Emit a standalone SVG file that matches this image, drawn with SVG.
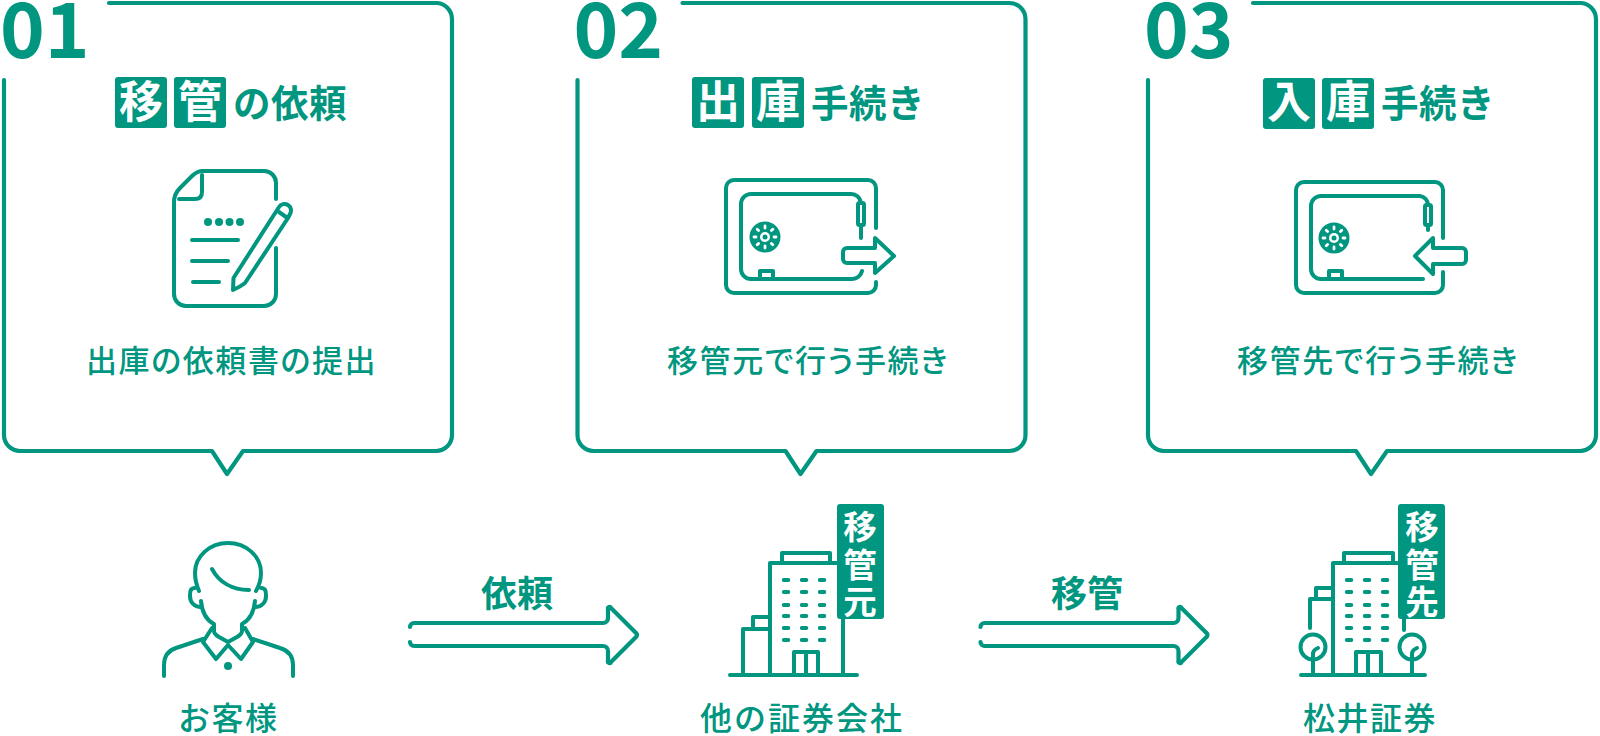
<svg xmlns="http://www.w3.org/2000/svg" width="1600" height="736" viewBox="0 0 1600 736">
<style>
text{font-family:"Noto Sans CJK JP","Noto Sans",sans-serif;fill:#00967f}
.l{fill:none;stroke:#00967f;stroke-width:4;stroke-linecap:round;stroke-linejoin:round}
.c{fill:none;stroke:#00967f;stroke-width:4.2;stroke-linecap:round;stroke-linejoin:round}
.f{fill:#00967f}
.num{font-size:76px;font-weight:700}
.tb{font-size:44px;font-weight:700;fill:#fff;text-anchor:middle}
.tt{font-size:37.500px;font-weight:700;letter-spacing:.5px}
.d{font-size:31px;font-weight:500;letter-spacing:1.6px;font-feature-settings:"palt"}
.n{font-size:32px;font-weight:500;letter-spacing:1.500px}
.a{font-size:36px;font-weight:700;text-anchor:middle}
.bt{font-size:33.500px;font-weight:700;fill:#fff;text-anchor:middle}
.w{stroke:#00967f;stroke-width:4;stroke-linecap:round;fill:none;stroke-dasharray:4.5 13.5}
</style>
<defs>
<g id="callout"><path class="c" d="M109,3H436A16,16 0 0 1 452,19V435A16,16 0 0 1 436,451H243L227,474L212,451H20A16,16 0 0 1 4,435V80"/></g>
<g id="dial"><circle r="15.500" class="f"/><circle r="5" fill="#fff"/><circle r="2.500" class="f"/>
<g stroke="#fff" stroke-width="2.800" stroke-linecap="round"><path d="M0,-11V-9M7.800,-7.800L6.400,-6.400M11,0H9M7.800,7.800L6.400,6.400M0,11V9M-7.800,7.800L-6.400,6.400M-11,0H-9M-7.800,-7.800L-6.400,-6.400"/></g></g>
<g id="windows"><path class="w" d="M-2.200,0H40"/><path class="w" d="M-2.200,12H40"/><path class="w" d="M-2.200,25H40"/><path class="w" d="M-2.200,36H40"/><path class="w" d="M-2.200,48H40"/><path class="w" d="M-2.200,60H40"/></g>
<g id="longarrow"><path class="c" d="M410,627A4,4 0 0 1 414,623H603A5,5 0 0 0 608,618V609A1.500,1.500 0 0 1 611,608L636,633A2.500,2.500 0 0 1 636,637L611,662A1.500,1.500 0 0 1 608,661V651A5,5 0 0 0 603,646H414A4,4 0 0 1 410,642"/></g>
</defs>

<g id="connectors">
<use href="#longarrow"/>
<use href="#longarrow" x="570.500"/>
<text class="a" x="517" y="607">依頼</text>
<text class="a" x="1087" y="607">移管</text>
</g>

<g id="step-01">
<use href="#callout"/>
<text class="num" x="0" y="58">01</text>
<rect class="f" x="115" y="77" width="52" height="51" rx="3"/><rect class="f" x="174" y="77" width="52" height="51" rx="3"/>
<text class="tb" x="141" y="118">移</text><text class="tb" x="200" y="118">管</text>
<text class="tt" x="233" y="117">の依頼</text>
<g id="doc-icon">
<path class="l" d="M276,199V183A12,12 0 0 0 264,171H203Q197,171 192,176L180,188Q174,194 174,202V294A12,12 0 0 0 186,306H264A12,12 0 0 0 276,294V248"/>
<path class="l" d="M202,175V192Q202,199 195,199H179"/>
<circle class="f" cx="208" cy="222" r="4"/><circle class="f" cx="219" cy="222" r="4"/><circle class="f" cx="229.500" cy="222" r="4"/><circle class="f" cx="240" cy="222" r="4"/>
<path class="l" d="M192,240H238M192,261H228M193,282H219"/>
<path class="l" d="M233,290L233.500,278L279,207A6.500,6.500 0 0 1 290,214L288,218L245,283Q240,287 233,290ZM279,212L286,217"/>
</g>
<text class="d" x="86" y="372">出庫の依頼書の提出</text>
</g>

<g id="step-02">
<use href="#callout" x="573.500"/>
<text class="num" x="573.500" y="58">02</text>
<rect class="f" x="692" y="77" width="52" height="51" rx="3"/><rect class="f" x="752" y="77" width="52" height="51" rx="3"/>
<text class="tb" x="718" y="118">出</text><text class="tb" x="778" y="118">庫</text>
<text class="tt" x="811" y="117">手続き</text>
<g id="safe-out">
<path class="l" d="M876,228V188A8,8 0 0 0 868,180H734A8,8 0 0 0 726,188V285A8,8 0 0 0 734,293H868A8,8 0 0 0 876,285V282"/>
<path class="l" d="M861,203A10,10 0 0 0 851,194H751A10,10 0 0 0 741,204V269A10,10 0 0 0 751,279H852A10,10 0 0 0 862,271"/>
<rect class="l" x="858" y="203" width="6" height="22" rx="1.500"/><path class="l" d="M861,225V238"/>
<path class="l" d="M760,279V271H773V279"/>
<use href="#dial" x="765" y="237"/>
<path class="l" d="M875,248V238L894,256L875,273V263H847A4,4 0 0 1 843,259V252A4,4 0 0 1 847,248Z"/>
</g>
<text class="d" x="667" y="372">移管元で行う手続き</text>
</g>

<g id="step-03">
<use href="#callout" x="1144"/>
<text class="num" x="1144" y="58">03</text>
<rect class="f" x="1263" y="78" width="52" height="51" rx="3"/><rect class="f" x="1322" y="78" width="52" height="51" rx="3"/>
<text class="tb" x="1289" y="118">入</text><text class="tb" x="1348" y="118">庫</text>
<text class="tt" x="1381" y="117">手続き</text>
<g id="safe-in">
<path class="l" d="M1443,238V190A8,8 0 0 0 1435,182H1304A8,8 0 0 0 1296,190V285A8,8 0 0 0 1304,293H1435A8,8 0 0 0 1443,285V272"/>
<path class="l" d="M1428,205A9,9 0 0 0 1420,196H1321A10,10 0 0 0 1311,206V269A10,10 0 0 0 1321,279H1423"/>
<rect class="l" x="1425" y="205" width="6" height="20" rx="1.500"/><path class="l" d="M1428,225V230"/>
<path class="l" d="M1329,279V271H1342V279"/>
<use href="#dial" x="1334" y="238"/>
<path class="l" d="M1433,248V238L1415,256L1433,274V264H1462A4,4 0 0 0 1466,260V252A4,4 0 0 0 1462,248Z"/>
</g>
<text class="d" x="1237" y="372">移管先で行う手続き</text>
</g>

<g id="customer">
<path class="l" d="M199,591C196,584 195,578 195,573C195,556 210,543 228,543C246,543 261,556 261,573C261,578 260,584 256,591"/>
<path class="l" d="M195,588C190,588 190,592 190,596C190,602 194,607 201,607M261,588C266,588 266,592 266,596C266,602 262,607 255,607"/>
<path class="l" d="M201,601C202,612 206,620 214,624V631Q214,634 219,637L228,642L237,637Q242,634 242,631V624C250,620 254,612 255,601"/>
<path class="l" d="M212,569C219,582 232,590 249,590"/>
<path class="l" d="M212,628L203,642L216,659L228,645L241,659L253,642L245,628"/>
<path class="l" d="M203,639L176,648Q164,652 164,665V676M253,639L280,648Q293,652 293,665V676"/>
<circle class="f" cx="228" cy="666" r="4"/>
<text class="n" x="178" y="730">お客様</text>
</g>

<g id="other-broker">
<path class="l" d="M730,675H857"/>
<path class="l" d="M770,675V563H843V675"/>
<path class="l" d="M782,563V553H830V563"/>
<path class="l" d="M743,675V629H770M753,629V617H770"/>
<path class="l" d="M794,675V652H818V675M806,652V675"/>
<use href="#windows" x="786" y="580"/>
<rect class="f" x="837" y="504" width="47" height="115" rx="3"/>
<text class="bt" x="860" y="539">移</text><text class="bt" x="860" y="577">管</text><text class="bt" x="860" y="614">元</text>
<text class="n" x="700" y="730" style="letter-spacing:2px">他の証券会社</text>
</g>

<g id="matsui">
<path class="l" d="M1301,675H1425"/>
<path class="l" d="M1333,675V563H1404V630"/>
<path class="l" d="M1344,563V553H1393V563"/>
<path class="l" d="M1310,628V599H1333M1316,599V588H1333"/>
<path class="l" d="M1356,675V652H1381V675M1368,652V675"/>
<use href="#windows" x="1349" y="580"/>
<circle cx="1313" cy="647" r="12.500" fill="#fff" stroke="#00967f" stroke-width="4"/>
<circle cx="1412" cy="647" r="12.500" fill="#fff" stroke="#00967f" stroke-width="4"/>
<path class="l" d="M1313,675V654Q1313,650 1318,648M1412,675V654Q1412,650 1417,648"/>
<rect class="f" x="1398" y="504" width="47" height="115" rx="3"/>
<text class="bt" x="1422" y="539">移</text><text class="bt" x="1422" y="577">管</text><text class="bt" x="1422" y="614">先</text>
<text class="n" x="1303" y="730">松井証券</text>
</g>
</svg>
